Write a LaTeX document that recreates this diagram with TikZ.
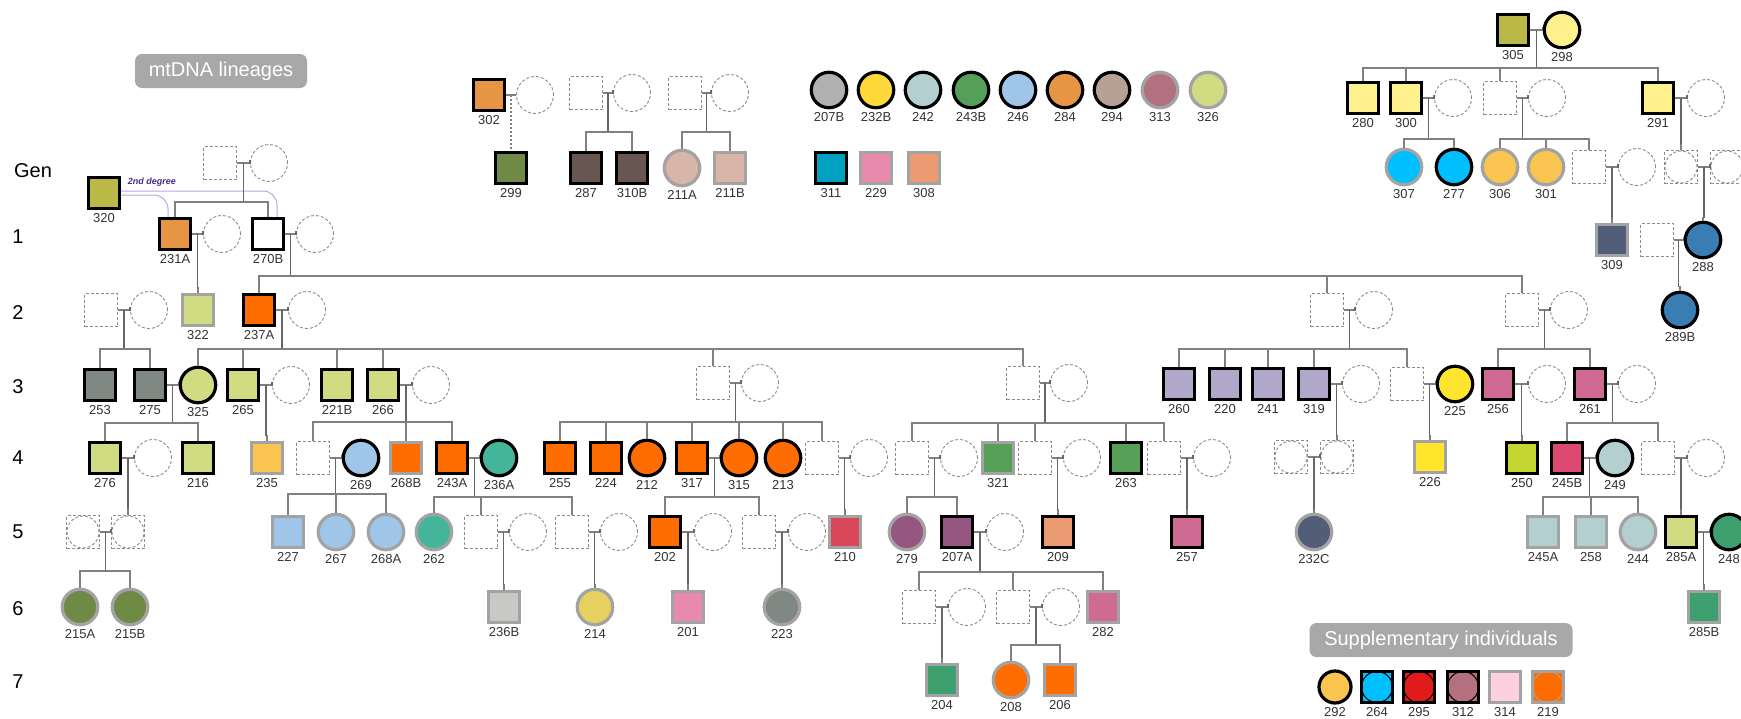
\documentclass[tikz,border=0pt]{standalone}
\usepackage{fontspec}
\setmainfont{Liberation Sans}
\usepackage{tikz}
\usetikzlibrary{calc}
\definecolor{linkgrey}{HTML}{808080}
\definecolor{dropgrey}{HTML}{666666}
\definecolor{dashgrey}{HTML}{8C8C8C}
\definecolor{ringgrey}{HTML}{A3A3A3}
\definecolor{idgrey}{HTML}{333333}
\definecolor{tagfill}{HTML}{A8A8A8}
\definecolor{kinpurple}{HTML}{BBA8E8}
\definecolor{degpurple}{HTML}{4B2A8C}
\definecolor{olive}{HTML}{BAB847}
\definecolor{tan}{HTML}{E69545}
\definecolor{hot}{HTML}{FF6D00}
\definecolor{lime}{HTML}{D1DC82}
\definecolor{slate}{HTML}{7F8883}
\definecolor{gold}{HTML}{F9C550}
\definecolor{sky}{HTML}{9FC5E8}
\definecolor{teal}{HTML}{44B59B}
\definecolor{moss}{HTML}{6F8A45}
\definecolor{cocoa}{HTML}{665850}
\definecolor{blush}{HTML}{D9B5A8}
\definecolor{stone}{HTML}{C8C8C4}
\definecolor{mustard}{HTML}{E6D160}
\definecolor{pink}{HTML}{E88AAD}
\definecolor{rose}{HTML}{D9485A}
\definecolor{leaf}{HTML}{559F58}
\definecolor{plum}{HTML}{955681}
\definecolor{salmon}{HTML}{EB9B72}
\definecolor{mauve}{HTML}{CF6B93}
\definecolor{jade}{HTML}{3EA06F}
\definecolor{lilac}{HTML}{B0A8C8}
\definecolor{navy}{HTML}{525E78}
\definecolor{lemon}{HTML}{FFE52C}
\definecolor{chart}{HTML}{C5D632}
\definecolor{raspb}{HTML}{DC4A72}
\definecolor{ice}{HTML}{B3CFCF}
\definecolor{cream}{HTML}{FFF08E}
\definecolor{cyan}{HTML}{00BFFF}
\definecolor{steel}{HTML}{3A7DB5}
\definecolor{ocean}{HTML}{00A0C0}
\definecolor{silver}{HTML}{B0B0B0}
\definecolor{sun}{HTML}{FFD93A}
\definecolor{taupe}{HTML}{B9A095}
\definecolor{wine}{HTML}{B3707E}
\definecolor{scarlet}{HTML}{E31A1C}
\definecolor{petal}{HTML}{FCD0DE}

\tikzset{
  sq/.style={rectangle, minimum size=31pt, inner sep=0pt},
  ci/.style={circle, minimum size=35.5pt, inner sep=0pt},
  blk/.style={draw=black, line width=3.2pt},
  gry/.style={draw=ringgrey, line width=3.2pt},
  ghost/.style={draw=dashgrey, dash pattern=on 3pt off 2pt, line width=0.9pt},
  gsq/.style={rectangle, minimum size=33pt, inner sep=0pt, ghost},
  gci/.style={circle, minimum size=37pt, inner sep=0pt, ghost},
  unk/.style={gsq, path picture={\draw[ghost] (path picture bounding box.center) circle (16pt);}},
  supp/.style 2 args={sq, fill=#1, draw=#2, line width=3pt,
    path picture={\draw[draw=#2, line width=1pt, fill=#1] (path picture bounding box.center) circle (15.5pt);}},
  idlab/.style={font=\fontsize{13}{13}\selectfont, text=idgrey, inner sep=0pt},
  id/.style={label={[idlab]below:#1}},
  link/.style={draw=linkgrey, line width=1.3pt},
  drop/.style={draw=dropgrey, line width=1.2pt},
  genlab/.style={font=\fontsize{20}{20}\selectfont, inner sep=0pt},
  tagbox/.style={fill=tagfill, rounded corners=7pt, text=white, font=\fontsize{20}{20}\selectfont, minimum height=34pt, inner sep=0pt},
  kinline/.style={draw=kinpurple, line width=1pt, rounded corners=14pt}
}

% couple line, descent and sibling bar
\newcommand{\kids}[4]{%
  \draw[link] (#1.east) -- (#2.west);
  \draw[drop] ([yshift=3pt]#2.west) -- ([yshift=-1pt]#2.west);
  \coordinate (mid) at ($(#1.east)!0.5!(#2.west)$);
  \coordinate (bar) at (0,#3);
  \draw[drop] (mid) -- (mid |- bar);
  \foreach \k in {#4} {\draw[link] (\k.north) -- (\k.north |- bar) -- (mid |- bar);}
}

\begin{document}
\begin{tikzpicture}[x=1pt, y=-1pt, label distance=3pt]
  \useasboundingbox (0,0) rectangle (1741,718);
  \clip (0,0) rectangle (1741,718);
  \fill[white] (0,0) rectangle (1741,718);

  % Headers
  \node[tagbox, minimum width=172pt] (mtdna) at (221,71) {mtDNA lineages};
  \node[tagbox, minimum width=263pt] (supptag) at (1441,640) {Supplementary individuals};

  % Generation numbers
  \node[genlab] (gen) at (33,171) {Gen};
  \foreach \g/\y in {1/237, 2/313, 3/387, 4/458, 5/532, 6/609, 7/682}
    \node[genlab] (gen\g) at (18,\y) {\g};

  % Generation 0 and 1
  \node[gsq] (g0f) at (220,163) {};
  \node[gci] (g0m) at (269,163) {};
  \node[sq, blk, fill=olive, id=320] (n320) at (104,193) {};
  \node[sq, blk, fill=tan, id=231A] (n231A) at (175,234) {};
  \node[gci] (p231A) at (222,234) {};
  \node[sq, blk, fill=white, id=270B] (n270B) at (268,234) {};
  \node[gci] (p270B) at (315,234) {};

  % Generation 2
  \node[gsq] (g2f) at (101,310) {};
  \node[gci] (g2m) at (149,310) {};
  \node[sq, gry, fill=lime, id=322] (n322) at (198,310) {};
  \node[sq, blk, fill=hot, id=237A] (n237A) at (259,310) {};
  \node[gci] (p237A) at (307,310) {};
  \node[gsq] (g2f2) at (1327,310) {};
  \node[gci] (g2m2) at (1374,310) {};
  \node[gsq] (g2f3) at (1522,310) {};
  \node[gci] (g2m3) at (1569,310) {};

  % Generation 3
  \node[sq, blk, fill=slate, id=253] (n253) at (100,385) {};
  \node[sq, blk, fill=slate, id=275] (n275) at (150,385) {};
  \node[ci, blk, fill=lime, id=325] (n325) at (198,385) {};
  \node[sq, blk, fill=lime, id=265] (n265) at (243,385) {};
  \node[gci] (p265) at (291,385) {};
  \node[sq, blk, fill=lime, id=221B] (n221B) at (337,385) {};
  \node[sq, blk, fill=lime, id=266] (n266) at (383,385) {};
  \node[gci] (p266) at (431,385) {};
  \node[gsq] (g3f1) at (713,383) {};
  \node[gci] (g3m1) at (760,383) {};
  \node[gsq] (g3f2) at (1023,383) {};
  \node[gci] (g3m2) at (1069,383) {};
  \node[sq, blk, fill=lilac, id=260] (n260) at (1179,384) {};
  \node[sq, blk, fill=lilac, id=220] (n220) at (1225,384) {};
  \node[sq, blk, fill=lilac, id=241] (n241) at (1268,384) {};
  \node[sq, blk, fill=lilac, id=319] (n319) at (1314,384) {};
  \node[gci] (p319) at (1361,384) {};
  \node[gsq] (g3f3) at (1407,384) {};
  \node[ci, blk, fill=lemon, id=225] (n225) at (1455,384) {};
  \node[sq, blk, fill=mauve, id=256] (n256) at (1498,384) {};
  \node[gci] (p256) at (1547,384) {};
  \node[sq, blk, fill=mauve, id=261] (n261) at (1590,384) {};
  \node[gci] (p261) at (1637,384) {};

  % Generation 4
  \node[sq, blk, fill=lime, id=276] (n276) at (105,458) {};
  \node[gci] (p276) at (153,458) {};
  \node[sq, blk, fill=lime, id=216] (n216) at (198,458) {};
  \node[sq, gry, fill=gold, id=235] (n235) at (267,458) {};
  \node[gsq] (g4f1) at (313,458) {};
  \node[ci, blk, fill=sky, id=269] (n269) at (361,458) {};
  \node[sq, gry, fill=hot, id=268B] (n268B) at (406,458) {};
  \node[sq, blk, fill=hot, id=243A] (n243A) at (452,458) {};
  \node[ci, blk, fill=teal, id=236A] (n236A) at (499,458) {};
  \node[sq, blk, fill=hot, id=255] (n255) at (560,458) {};
  \node[sq, blk, fill=hot, id=224] (n224) at (606,458) {};
  \node[ci, blk, fill=hot, id=212] (n212) at (647,458) {};
  \node[sq, blk, fill=hot, id=317] (n317) at (692,458) {};
  \node[ci, blk, fill=hot, id=315] (n315) at (739,458) {};
  \node[ci, blk, fill=hot, id=213] (n213) at (783,458) {};
  \node[gsq] (g4f2) at (822,458) {};
  \node[gci] (g4m2) at (869,458) {};
  \node[gsq] (g4f3) at (912,458) {};
  \node[gci] (g4m3) at (959,458) {};
  \node[sq, gry, fill=leaf, id=321] (n321) at (998,458) {};
  \node[gsq] (g4f4) at (1035,458) {};
  \node[gci] (g4m4) at (1082,458) {};
  \node[sq, blk, fill=leaf, id=263] (n263) at (1126,458) {};
  \node[gsq] (g4f5) at (1164,458) {};
  \node[gci] (g4m5) at (1212,458) {};
  \node[unk] (x4a) at (1291,457) {};
  \node[unk] (x4b) at (1337,457) {};
  \node[sq, gry, fill=lemon, id=226] (n226) at (1430,457) {};
  \node[sq, blk, fill=chart, id=250] (n250) at (1522,458) {};
  \node[sq, blk, fill=raspb, id=245B] (n245B) at (1567,458) {};
  \node[ci, blk, fill=ice, id=249] (n249) at (1615,458) {};
  \node[gsq] (g4f6) at (1658,458) {};
  \node[gci] (g4m6) at (1706,458) {};

  % Generation 5
  \node[unk] (x5a) at (83,532) {};
  \node[unk] (x5b) at (128,532) {};
  \node[sq, gry, fill=sky, id=227] (n227) at (288,532) {};
  \node[ci, gry, fill=sky, id=267] (n267) at (336,532) {};
  \node[ci, gry, fill=sky, id=268A] (n268A) at (386,532) {};
  \node[ci, gry, fill=teal, id=262] (n262) at (434,532) {};
  \node[gsq] (g5f1) at (481,532) {};
  \node[gci] (g5m1) at (528,532) {};
  \node[gsq] (g5f2) at (572,532) {};
  \node[gci] (g5m2) at (619,532) {};
  \node[sq, blk, fill=hot, id=202] (n202) at (665,532) {};
  \node[gci] (p202) at (713,532) {};
  \node[gsq] (g5f3) at (759,532) {};
  \node[gci] (g5m3) at (807,532) {};
  \node[sq, gry, fill=rose, id=210] (n210) at (845,532) {};
  \node[ci, gry, fill=plum, id=279] (n279) at (907,532) {};
  \node[sq, blk, fill=plum, id=207A] (n207A) at (957,532) {};
  \node[gci] (p207A) at (1005,532) {};
  \node[sq, blk, fill=salmon, id=209] (n209) at (1058,532) {};
  \node[sq, blk, fill=mauve, id=257] (n257) at (1187,532) {};
  \node[ci, gry, fill=navy, id=232C] (n232C) at (1314,532) {};
  \node[sq, gry, fill=ice, id=245A] (n245A) at (1543,532) {};
  \node[sq, gry, fill=ice, id=258] (n258) at (1591,532) {};
  \node[ci, gry, fill=ice, id=244] (n244) at (1638,532) {};
  \node[sq, blk, fill=lime, id=285A] (n285A) at (1681,532) {};
  \node[ci, blk, fill=jade, id=248] (n248) at (1729,532) {};

  % Generation 6 and 7
  \node[ci, gry, fill=moss, id=215A] (n215A) at (80,607) {};
  \node[ci, gry, fill=moss, id=215B] (n215B) at (130,607) {};
  \node[sq, gry, fill=stone, id=236B] (n236B) at (504,607) {};
  \node[ci, gry, fill=mustard, id=214] (n214) at (595,607) {};
  \node[sq, gry, fill=pink, id=201] (n201) at (688,607) {};
  \node[ci, gry, fill=slate, id=223] (n223) at (782,607) {};
  \node[gsq] (g6f1) at (919,607) {};
  \node[gci] (g6m1) at (967,607) {};
  \node[gsq] (g6f2) at (1013,607) {};
  \node[gci] (g6m2) at (1061,607) {};
  \node[sq, gry, fill=mauve, id=282] (n282) at (1103,607) {};
  \node[sq, gry, fill=jade, id=285B] (n285B) at (1704,607) {};
  \node[sq, gry, fill=jade, id=204] (n204) at (942,680) {};
  \node[ci, gry, fill=hot, id=208] (n208) at (1011,680) {};
  \node[sq, gry, fill=hot, id=206] (n206) at (1060,680) {};

  % Small families, top middle
  \node[sq, blk, fill=tan, id=302] (n302) at (489,95) {};
  \node[gci] (p302) at (535,95) {};
  \node[sq, blk, fill=moss, id=299] (n299) at (511,168) {};
  \node[gsq] (t1f) at (586,93) {};
  \node[gci] (t1m) at (632,93) {};
  \node[sq, blk, fill=cocoa, id=287] (n287) at (586,168) {};
  \node[sq, blk, fill=cocoa, id=310B] (n310B) at (632,168) {};
  \node[gsq] (t2f) at (685,93) {};
  \node[gci] (t2m) at (730,93) {};
  \node[ci, gry, fill=blush, id=211A] (n211A) at (682,168) {};
  \node[sq, gry, fill=blush, id=211B] (n211B) at (730,168) {};

  % Unlinked individuals
  \foreach \n/\x/\c/\b in {207B/829/silver/blk, 232B/876/sun/blk, 242/923/ice/blk,
      243B/971/leaf/blk, 246/1018/sky/blk, 284/1065/tan/blk, 294/1112/taupe/blk,
      313/1160/wine/gry, 326/1208/lime/gry}
    \node[ci, \b, fill=\c, id=\n] (n\n) at (\x,90) {};
  \foreach \n/\x/\c/\b in {311/831/ocean/blk, 229/876/pink/gry, 308/924/salmon/gry}
    \node[sq, \b, fill=\c, id=\n] (n\n) at (\x,168) {};

  % Top right family
  \node[sq, blk, fill=olive, id=305] (n305) at (1513,30) {};
  \node[ci, blk, fill=cream, id=298] (n298) at (1562,30) {};
  \node[sq, blk, fill=cream, id=280] (n280) at (1363,98) {};
  \node[sq, blk, fill=cream, id=300] (n300) at (1406,98) {};
  \node[gci] (p300) at (1453,98) {};
  \node[gsq] (r1f) at (1500,98) {};
  \node[gci] (r1m) at (1547,98) {};
  \node[sq, blk, fill=cream, id=291] (n291) at (1658,98) {};
  \node[gci] (p291) at (1706,98) {};
  \node[ci, gry, fill=cyan, id=307] (n307) at (1404,167) {};
  \node[ci, blk, fill=cyan, id=277] (n277) at (1454,167) {};
  \node[ci, gry, fill=gold, id=306] (n306) at (1500,167) {};
  \node[ci, gry, fill=gold, id=301] (n301) at (1546,167) {};
  \node[gsq] (r2f) at (1589,167) {};
  \node[gci] (r2m) at (1637,167) {};
  \node[unk] (x2a) at (1681,167) {};
  \node[unk] (x2b) at (1727,167) {};
  \node[sq, gry, fill=navy, id=309] (n309) at (1612,240) {};
  \node[gsq] (r3f) at (1657,240) {};
  \node[ci, blk, fill=steel, id=288] (n288) at (1703,240) {};
  \node[ci, blk, fill=steel, id=289B] (n289B) at (1680,310) {};

  % Supplementary individuals
  \node[ci, minimum size=32pt, blk, fill=gold, id=292] (s292) at (1335,687) {};
  \node[supp={cyan}{black}, id=264] (s264) at (1377,687) {};
  \node[supp={scarlet}{black}, id=295] (s295) at (1419,687) {};
  \node[supp={wine}{black}, id=312] (s312) at (1463,687) {};
  \node[sq, gry, fill=petal, id=314] (s314) at (1505,687) {};
  \node[supp={hot}{ringgrey}, id=219] (s219) at (1548,687) {};

  % Relationship of 320
  \draw[kinline] ([yshift=2pt]n320.east) -| ([xshift=9pt]n270B.north);
  \draw[kinline] ([yshift=-2pt]n320.east) -| ([xshift=-7pt]n231A.north);
  \node[font=\fontsize{9}{9}\selectfont\bfseries\itshape, text=degpurple, inner sep=0pt] (deg) at (152,182) {2nd degree};

  % Descent lines
  \kids{g0f}{g0m}{202}{n231A,n270B}
  \kids{n231A}{p231A}{288}{n322}
  \kids{n270B}{p270B}{276}{n237A,g2f2,g2f3}
  \kids{g2f}{g2m}{349}{n253,n275}
  \kids{n237A}{p237A}{349}{n325,n265,n221B,n266,g3f1,g3f2}
  \kids{g2f2}{g2m2}{349}{n260,n220,n241,n319,g3f3}
  \kids{g2f3}{g2m3}{349}{n256,n261}
  \kids{n275}{n325}{423}{n276,n216}
  \kids{n265}{p265}{436}{n235}
  \kids{n266}{p266}{422}{g4f1,n268B,n243A}
  \kids{g3f1}{g3m1}{422}{n255,n224,n212,n317,n315,n213,g4f2}
  \kids{g3f2}{g3m2}{423}{g4f3,n321,g4f4,n263,g4f5}
  \kids{n319}{p319}{436}{x4b}
  \kids{g3f3}{n225}{436}{n226}
  \kids{n256}{p256}{436}{n250}
  \kids{n261}{p261}{423}{n245B,g4f6}
  \kids{n276}{p276}{510}{x5b}
  \kids{g4f1}{n269}{494}{n227,n267,n268A}
  \kids{n243A}{n236A}{497}{n262,g5f1,g5f2}
  \kids{n317}{n315}{497}{n202,g5f3}
  \kids{g4f2}{g4m2}{510}{n210}
  \kids{g4f3}{g4m3}{497}{n279,n207A}
  \kids{g4f4}{g4m4}{510}{n209}
  \kids{g4f5}{g4m5}{510}{n257}
  \kids{x4a}{x4b}{510}{n232C}
  \kids{n245B}{n249}{497}{n245A,n258,n244}
  \kids{g4f6}{g4m6}{510}{n285A}
  \kids{x5a}{x5b}{571}{n215A,n215B}
  \kids{g5f1}{g5m1}{585}{n236B}
  \kids{g5f2}{g5m2}{585}{n214}
  \kids{n202}{p202}{585}{n201}
  \kids{g5f3}{g5m3}{585}{n223}
  \kids{n207A}{p207A}{572}{g6f1,g6f2,n282}
  \kids{n285A}{n248}{585}{n285B}
  \kids{g6f1}{g6m1}{658}{n204}
  \kids{g6f2}{g6m2}{645}{n208,n206}
  \kids{t1f}{t1m}{132}{n287,n310B}
  \kids{t2f}{t2m}{132}{n211A,n211B}
  \kids{n305}{n298}{68}{n280,n300,r1f,n291}
  \kids{n300}{p300}{139}{n307,n277}
  \kids{r1f}{r1m}{139}{n306,n301,r2f}
  \kids{n291}{p291}{145}{x2a}
  \kids{x2a}{x2b}{218}{n288}
  \kids{r2f}{r2m}{218}{n309}
  \kids{r3f}{n288}{287}{n289B}

  % 302 and 299
  \draw[link] (n302.east) -- (p302.west);
  \coordinate (m302) at ($(n302.east)!0.5!(p302.west)$);
  \draw[link, dash pattern=on 2pt off 2pt] (m302) -- (m302 |- n299.north);
\end{tikzpicture}
\end{document}
